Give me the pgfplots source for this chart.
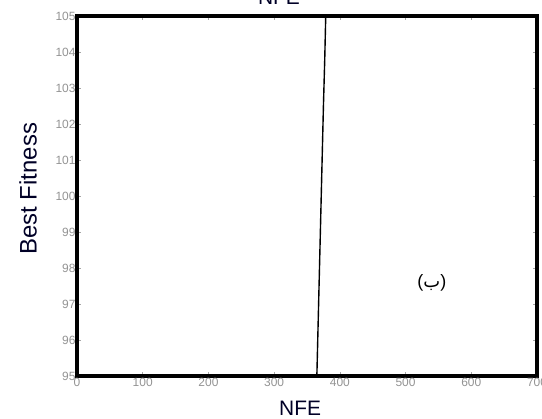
\documentclass[border=0pt]{standalone}
\usepackage{fontspec}
\setmainfont{Liberation Sans}
\newfontfamily\arabicfont[Script=Arabic]{DejaVu Sans}
\usepackage{pgfplots}
\pgfplotsset{compat=1.18}
\begin{document}
\begin{tikzpicture}
\useasboundingbox (-77bp,-43bp) rectangle (465bp,376bp);
\begin{axis}[
  at={(0,0)}, anchor=south west,
  scale only axis,
  width=460bp, height=360bp,
  xmin=0, xmax=700, ymin=95, ymax=105,
  xtick={0,100,...,700}, ytick={95,96,...,105},
  axis line style={line width=4.5bp, black},
  tick style={gray!70, line width=0.6pt},
  major tick length=4bp,
  tick align=inside,
  ticklabel style={font=\fontsize{12}{13}\selectfont, text=gray!85},
  /pgf/number format/assume math mode=true,
  xticklabel style={yshift=1bp},
  yticklabel style={xshift=2bp},
  xlabel={NFE}, ylabel={Best Fitness},
  xlabel style={at={(axis description cs:0.485,0)}, anchor=center, yshift=-32bp,
    font=\fontsize{21}{24}\selectfont, text=black!85!blue},
  ylabel style={at={(axis description cs:0,0.52)}, anchor=center, yshift=49bp,
    font=\fontsize{24}{26}\selectfont, text=black!85!blue},
  clip=true,
]
\addplot[black, line width=1.4pt] coordinates {
 (365,95) (367,96.5) (369,98) (371,99.5) (373,101) (375,102.5) (377,103.8) (378.5,105)
};
\node[font=\fontsize{18}{20}\selectfont] at (axis cs:540,97.6) {({\arabicfont ب})};
\end{axis}
\node[overlay, font=\fontsize{21}{24}\selectfont, text=black!85!blue] at (202bp,378.5bp) {NFE};
\end{tikzpicture}
\end{document}
